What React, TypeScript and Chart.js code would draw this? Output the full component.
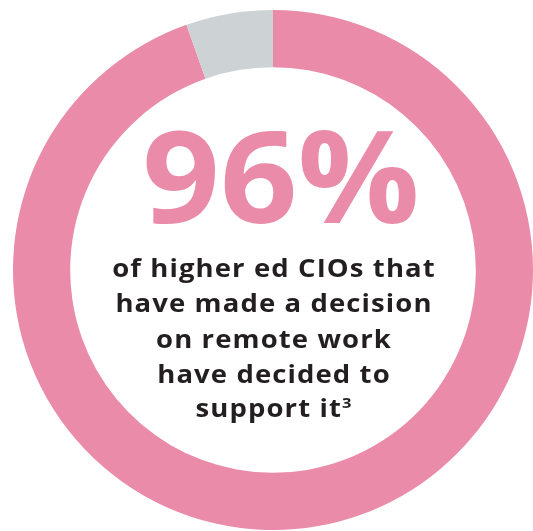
import React, { useEffect, useRef } from "react";
import { Chart, registerables } from "chart.js";

Chart.register(...registerables);

const categories = ["Decided to support remote work", "Other"];
const values = [94.6, 5.4];
const sliceColors = ["#E98BA9", "#CDD3D4"];
const headline = "96%";
const captionLines = [
  "of higher ed CIOs that",
  "have made a decision",
  "on remote work",
  "have decided to",
  "support it",
];
const footnote = "3";

const centerText = {
  id: "centerText",
  afterDraw(chart: any) {
    const { ctx } = chart;
    const meta = chart.getDatasetMeta(0);
    const arc = meta.data[0];
    const cx = arc.x;
    const cy = arc.y;
    ctx.save();
    ctx.textAlign = "center";
    ctx.textBaseline = "alphabetic";
    // headline
    ctx.save();
    ctx.translate(cx + 8, cy - 47);
    ctx.scale(1.06, 1);
    ctx.fillStyle = "#E98BA9";
    ctx.font = "700 128px 'Open Sans'";
    ctx.fillText(headline, 0, 0);
    ctx.restore();
    // caption
    ctx.save();
    ctx.translate(cx + 1, cy);
    ctx.scale(1.1, 1);
    ctx.fillStyle = "#231F20";
    (ctx as any).letterSpacing = "1px";
    ctx.font = "700 25px 'Open Sans'";
    const baselines = [7, 42, 78, 113, 147];
    captionLines.forEach((line, i) => {
      if (i === captionLines.length - 1) {
        ctx.font = "700 25px 'Open Sans'";
        const w = ctx.measureText(line).width;
        ctx.font = "700 15px 'Open Sans'";
        const sw = ctx.measureText(footnote).width;
        const start = -(w + sw) / 2;
        ctx.textAlign = "left";
        ctx.font = "700 25px 'Open Sans'";
        ctx.fillText(line, start, baselines[i]);
        ctx.font = "700 15px 'Open Sans'";
        ctx.fillText(footnote, start + w, baselines[i] - 9);
        ctx.textAlign = "center";
      } else {
        ctx.fillText(line, 0, baselines[i]);
      }
    });
    ctx.restore();
    ctx.restore();
  },
};

export default function App() {
  const ref = useRef<HTMLCanvasElement>(null);
  useEffect(() => {
    if (!ref.current) return;
    const chart = new Chart(ref.current, {
      type: "doughnut",
      data: {
        labels: categories,
        datasets: [
          {
            data: values,
            backgroundColor: sliceColors,
            borderWidth: 0,
            hoverOffset: 0,
          },
        ],
      },
      options: {
        responsive: false,
        animation: false,
        cutout: "78%",
        layout: { padding: { left: 13, right: 0, top: 10, bottom: 1 } },
        plugins: { legend: { display: false }, tooltip: { enabled: false } },
      },
      plugins: [centerText],
    });
    return () => chart.destroy();
  }, []);
  return (
    <div style={{ position: "fixed", left: 0, top: 0, width: 533, height: 531, background: "#fff" }}>
      <canvas ref={ref} width={533} height={531} style={{ width: 533, height: 531 }} />
    </div>
  );
}
